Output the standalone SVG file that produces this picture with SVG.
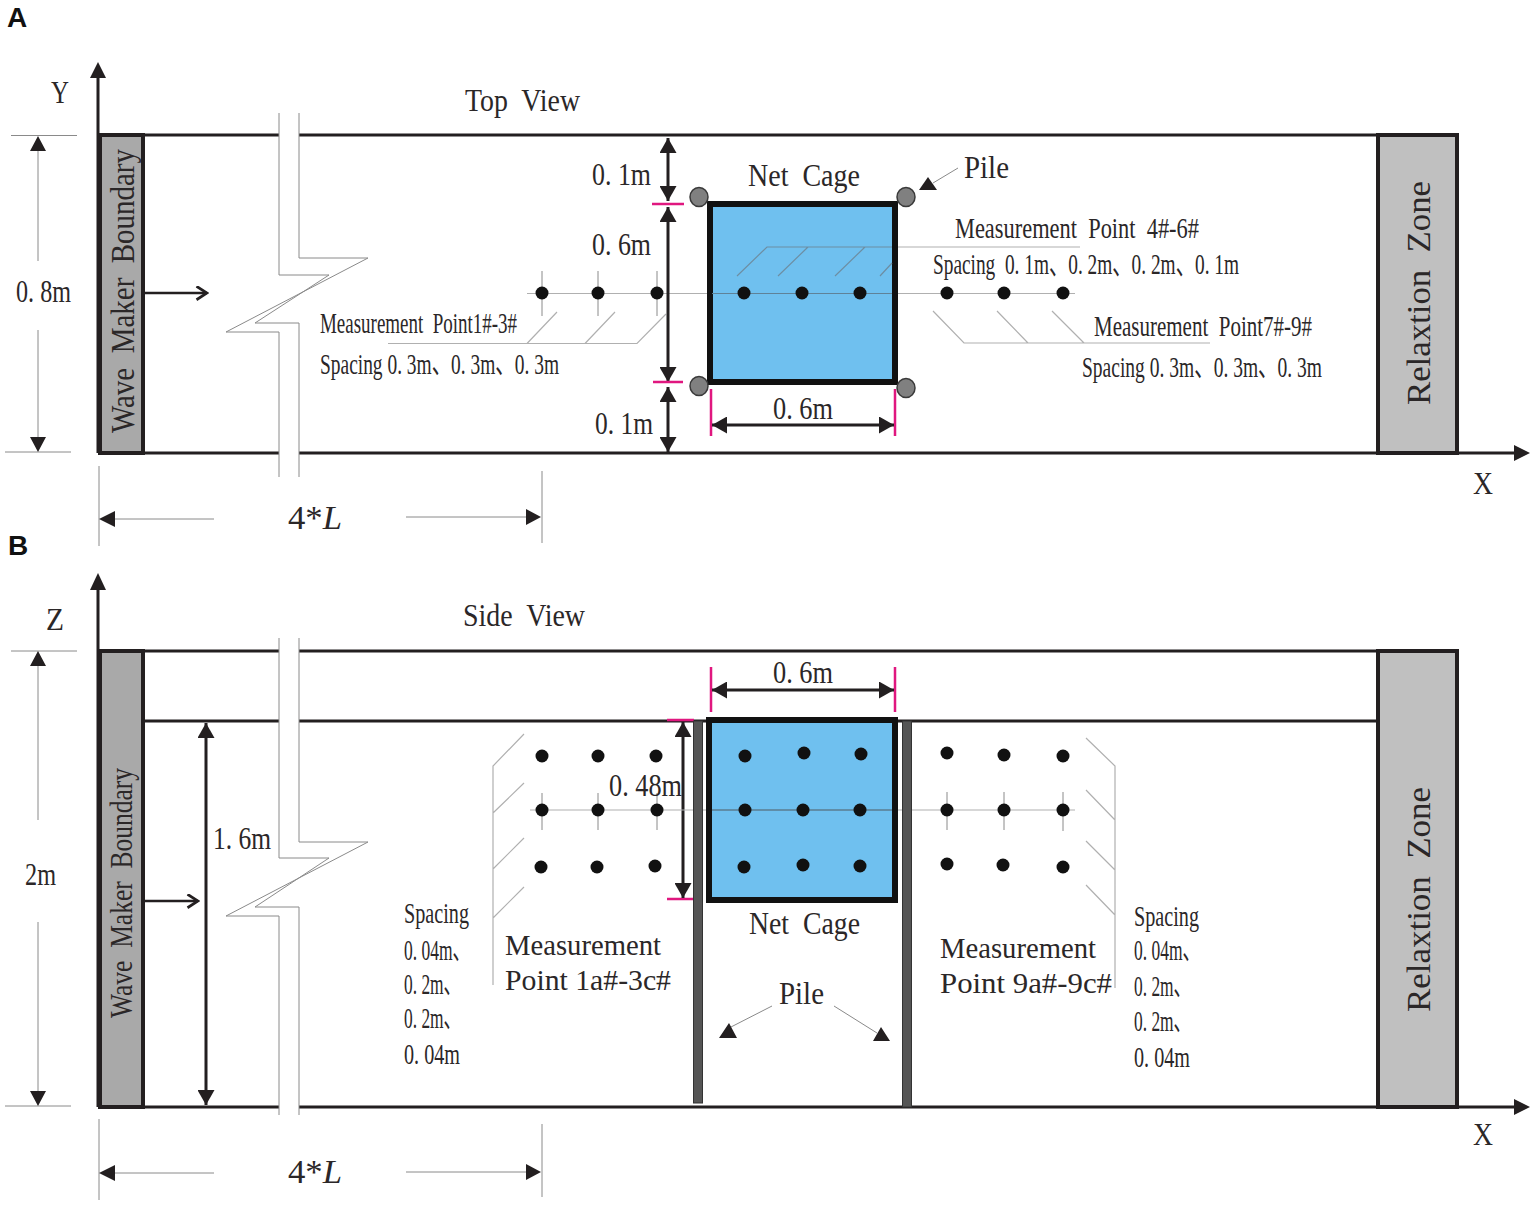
<svg xmlns="http://www.w3.org/2000/svg" width="1535" height="1205" viewBox="0 0 1535 1205">
<defs>
<marker id="ah" viewBox="0 0 15 17" refX="15" refY="8.500" markerWidth="15" markerHeight="17" markerUnits="userSpaceOnUse" orient="auto-start-reverse"><path d="M0 0L15 8.500L0 17Z" fill="#231f20"/></marker>
<marker id="op" viewBox="0 0 10 10" refX="9" refY="5" markerWidth="15" markerHeight="15" markerUnits="userSpaceOnUse" orient="auto"><path d="M2 0.500L9 5L2 9.500" fill="none" stroke="#231f20" stroke-width="1.800"/></marker>
</defs>
<style>
text{font-family:"Liberation Serif","Times New Roman","Noto Sans CJK SC",serif;fill:#2b2728;font-size:31px;white-space:pre}
.p{font-family:"Liberation Sans",Arial,sans-serif;font-weight:bold;font-size:28px;fill:#111}
.s{font-size:29px}
.m{font-size:30px}
.wall{stroke:#231f20;stroke-width:3;fill:none}
.thin{stroke:#8a8a8a;stroke-width:1;fill:none}
.lead{stroke:#b0b0b0;stroke-width:1.200;fill:none}
.blk{stroke:#231f20;stroke-width:2.500;fill:none}
.dim{stroke:#231f20;stroke-width:3;fill:none;marker-start:url(#ah);marker-end:url(#ah)}
.pink{stroke:#e0177f;stroke-width:2.500;fill:none}
.zone{fill:#c0c0c0;stroke:#231f20;stroke-width:4}
.wm{fill:#a9a9a9;stroke:#231f20;stroke-width:4}
.cage{fill:#6fc0ef;stroke:#111;stroke-width:6}
.pile{fill:#808080;stroke:#3a3a3a;stroke-width:1.500}
.sp{fill:#555;stroke:#333;stroke-width:1}
.d{fill:#111}
.brk{fill:#fff;stroke:#8a8a8a;stroke-width:1}
.tri{fill:#231f20}
</style>
<rect width="1535" height="1205" fill="#fff"/>

<g id="connectors">
<!-- top view -->
<path class="wall" d="M98 135H1457M98 453H1516"/>
<path class="wall" d="M98 453V78"/><path class="tri" d="M98 62L106 78H90Z"/>
<path class="tri" d="M1530 453L1514 445V461Z"/>
<path class="thin" d="M11 135.500H77M5 452H71"/>
<path class="thin" d="M38 145V261M38 330V440"/>
<path class="tri" d="M38 136L46 151H30ZM38 452L30 437H46Z"/>
<path class="blk" d="M144 293H207" marker-end="url(#op)"/>
<path class="thin" d="M99 466V546M542 471V543"/>
<path class="thin" d="M114 519H214M406 517H526"/>
<path class="tri" d="M99 519L115 511V527ZM541 517L526 509V525Z"/>
<path class="lead" d="M527 293.500H1075"/>
<path class="thin" d="M542 271V316M598 271V316M657 271V316"/>
<path class="lead" d="M388 343.500H637L666 314M527 343.500L557 312M585 343.500L615 312"/>
<path class="lead" d="M892 247H1080M892 263L880 276"/>
<path class="lead" d="M933 311L964 343H1210M997 311L1028 343M1052 311L1084 343"/>
<path class="dim" d="M668 138V201"/>
<path class="dim" d="M668 207V382"/>
<path class="dim" d="M668 387V452"/>
<path class="pink" d="M652 204H684M653 382H683"/>
<path class="pink" d="M711 389V436M895 389V436"/>
<path class="dim" d="M712 425H894"/>
<path class="thin" d="M958 168L933 183"/>
<path class="tri" d="M928 177L937 190H919Z"/>
<!-- side view -->
<path class="wall" d="M98 651H1457M144 721H1378M98 1107H1516"/>
<path class="wall" d="M98 1107V590"/><path class="tri" d="M98 573L106 590H90Z"/>
<path class="tri" d="M1530 1107L1514 1099V1115Z"/>
<path class="thin" d="M11 651H77M5 1106H71"/>
<path class="thin" d="M38 665V820M38 922V1092"/>
<path class="tri" d="M38 651L46 666H30ZM38 1106L30 1091H46Z"/>
<path class="blk" d="M144 901H198" marker-end="url(#op)"/>
<path class="dim" d="M206 723V1105"/>
<path class="thin" d="M99 1119V1200M542 1124V1197"/>
<path class="thin" d="M114 1173H214M406 1172H526"/>
<path class="tri" d="M99 1173L115 1165V1181ZM541 1172L526 1164V1180Z"/>
<path class="pink" d="M711 667V712M895 667V712"/>
<path class="dim" d="M712 690H894"/>
<path class="pink" d="M667 720H694M667 899H693"/>
<path class="dim" d="M683 722V898"/>
<path class="lead" d="M530 810H1075"/>
<path class="thin" d="M542 793V830M598 793V830M657 793V830M947 792V830M1004 792V830M1063 792V831"/>
<path class="lead" d="M524 734L493 766V985M524 783L493 813M524 838L493 869M524 887L493 918"/>
<path class="lead" d="M1086 738L1115 766V988M1086 790L1115 820M1086 841L1115 870M1086 885L1115 915"/>
<path class="thin" d="M772 1006L729 1028M834 1006L877 1033"/>
<path class="tri" d="M729 1023L737 1038H719ZM881 1027L890 1041H873Z"/>
</g>

<g id="break-a"><path class="brk" style="stroke:none" d="M279 113H299V258H368L255 323H299V477H279V332H226L329 275H279Z"/><path class="brk" style="fill:none" d="M279 113V275H329L255 323H299V477M299 113V258H368L226 332H279V477"/></g>
<g id="break-b"><path class="brk" style="stroke:none" d="M279 638H299V842H368L255 907H299V1115H279V916H226L329 858H279Z"/><path class="brk" style="fill:none" d="M279 638V858H329L255 907H299V1115M299 638V842H368L226 916H279V1115"/></g>

<g id="wave-maker-a"><rect class="wm" x="100" y="135" width="43" height="318"/><text transform="translate(134 433) rotate(-90)" x="0" y="0" textLength="284" lengthAdjust="spacingAndGlyphs" style="font-size:34px">Wave  Maker  Boundary</text></g>
<g id="relax-a"><rect class="zone" x="1378" y="135" width="79" height="318"/><text transform="translate(1430 405) rotate(-90)" x="0" y="0" textLength="224" lengthAdjust="spacingAndGlyphs" style="font-size:34px">Relaxtion  Zone</text></g>
<g id="cage-a"><rect class="cage" x="710" y="204" width="185" height="178"/></g>
<g id="piles-a"><ellipse class="pile" cx="699" cy="197" rx="9" ry="9.500"/><ellipse class="pile" cx="906" cy="197" rx="9" ry="9.500"/><ellipse class="pile" cx="699" cy="386" rx="9" ry="9.500"/><ellipse class="pile" cx="906" cy="388" rx="9" ry="9.500"/></g>
<g id="points-a">
<path class="lead" d="M712 293.500H892" style="stroke:#5f8298"/>
<circle class="d" cx="542" cy="293" r="6.500"/><circle class="d" cx="598" cy="293" r="6.500"/><circle class="d" cx="657" cy="293" r="6.500"/>
<circle class="d" cx="744" cy="293" r="6.500"/><circle class="d" cx="802" cy="293" r="6.500"/><circle class="d" cx="860" cy="293" r="6.500"/>
<circle class="d" cx="947" cy="293" r="6.500"/><circle class="d" cx="1004" cy="293" r="6.500"/><circle class="d" cx="1063" cy="293" r="6.500"/>
<path class="lead" d="M737 276L767 247H892M778 276L808 247M835 276L865 247M880 276L892 263" style="stroke:#6d8ea3"/>
</g>

<g id="wave-maker-b"><rect class="wm" x="100" y="651" width="43" height="456"/><text transform="translate(132 1018) rotate(-90)" x="0" y="0" textLength="250" lengthAdjust="spacingAndGlyphs" style="font-size:31px">Wave  Maker  Boundary</text></g>
<g id="relax-b"><rect class="zone" x="1378" y="651" width="79" height="456"/><text transform="translate(1430 1012) rotate(-90)" x="0" y="0" textLength="225" lengthAdjust="spacingAndGlyphs" style="font-size:34px">Relaxtion  Zone</text></g>
<g id="piles-b"><rect class="sp" x="693.500" y="721" width="9" height="382"/><rect class="sp" x="902.500" y="721" width="9" height="386"/></g>
<g id="cage-b"><rect class="cage" x="709" y="720" width="186" height="180"/><path d="M712 810H892" stroke="#5a7c90" stroke-width="1.300"/></g>
<g id="points-b">
<circle class="d" cx="542" cy="756" r="6.500"/><circle class="d" cx="598" cy="756" r="6.500"/><circle class="d" cx="656" cy="756" r="6.500"/>
<circle class="d" cx="542" cy="810" r="6.500"/><circle class="d" cx="598" cy="810" r="6.500"/><circle class="d" cx="657" cy="810" r="6.500"/>
<circle class="d" cx="541" cy="867" r="6.500"/><circle class="d" cx="597" cy="867" r="6.500"/><circle class="d" cx="655" cy="866" r="6.500"/>
<circle class="d" cx="745" cy="756" r="6.500"/><circle class="d" cx="804" cy="753" r="6.500"/><circle class="d" cx="861" cy="754" r="6.500"/>
<circle class="d" cx="745" cy="810" r="6.500"/><circle class="d" cx="803" cy="810" r="6.500"/><circle class="d" cx="860" cy="810" r="6.500"/>
<circle class="d" cx="744" cy="867" r="6.500"/><circle class="d" cx="803" cy="865" r="6.500"/><circle class="d" cx="860" cy="866" r="6.500"/>
<circle class="d" cx="947" cy="753" r="6.500"/><circle class="d" cx="1004" cy="755" r="6.500"/><circle class="d" cx="1063" cy="756" r="6.500"/>
<circle class="d" cx="947" cy="810" r="6.500"/><circle class="d" cx="1004" cy="810" r="6.500"/><circle class="d" cx="1063" cy="810" r="6.500"/>
<circle class="d" cx="947" cy="864" r="6.500"/><circle class="d" cx="1003" cy="865" r="6.500"/><circle class="d" cx="1063" cy="867" r="6.500"/>
</g>

<g id="labels">
<text class="p" x="7" y="27">A</text>
<text class="p" x="8" y="555">B</text>
<text x="51" y="103" textLength="18" lengthAdjust="spacingAndGlyphs">Y</text>
<text x="465" y="111" textLength="115" lengthAdjust="spacingAndGlyphs">Top  View</text>
<text x="16" y="302" textLength="55" lengthAdjust="spacingAndGlyphs">0. 8m</text>
<text x="288" y="529" textLength="54" lengthAdjust="spacingAndGlyphs" style="font-size:33px">4*<tspan font-style="italic">L</tspan></text>
<text class="s" x="320" y="333" textLength="197" lengthAdjust="spacingAndGlyphs">Measurement  Point1#-3#</text>
<text class="s" x="320" y="374" textLength="239" lengthAdjust="spacingAndGlyphs">Spacing 0. 3m、0. 3m、0. 3m</text>
<text x="592" y="185" textLength="59" lengthAdjust="spacingAndGlyphs">0. 1m</text>
<text x="592" y="255" textLength="59" lengthAdjust="spacingAndGlyphs">0. 6m</text>
<text x="595" y="434" textLength="58" lengthAdjust="spacingAndGlyphs">0. 1m</text>
<text x="748" y="186" textLength="112" lengthAdjust="spacingAndGlyphs">Net  Cage</text>
<text x="964" y="178" textLength="45" lengthAdjust="spacingAndGlyphs">Pile</text>
<text x="773" y="419" textLength="60" lengthAdjust="spacingAndGlyphs">0. 6m</text>
<text class="m" x="955" y="238" textLength="244" lengthAdjust="spacingAndGlyphs">Measurement  Point  4#-6#</text>
<text class="m" x="933" y="274" textLength="306" lengthAdjust="spacingAndGlyphs">Spacing  0. 1m、0. 2m、0. 2m、0. 1m</text>
<text class="s" x="1094" y="336" textLength="218" lengthAdjust="spacingAndGlyphs">Measurement  Point7#-9#</text>
<text class="s" x="1082" y="377" textLength="240" lengthAdjust="spacingAndGlyphs">Spacing 0. 3m、0. 3m、0. 3m</text>
<text x="1473" y="494" textLength="20" lengthAdjust="spacingAndGlyphs">X</text>
<text x="46" y="630" textLength="18" lengthAdjust="spacingAndGlyphs">Z</text>
<text x="463" y="626" textLength="122" lengthAdjust="spacingAndGlyphs">Side  View</text>
<text x="25" y="885" textLength="31" lengthAdjust="spacingAndGlyphs">2m</text>
<text x="213" y="849" textLength="58" lengthAdjust="spacingAndGlyphs">1. 6m</text>
<text x="288" y="1183" textLength="54" lengthAdjust="spacingAndGlyphs" style="font-size:33px">4*<tspan font-style="italic">L</tspan></text>
<text x="773" y="683" textLength="60" lengthAdjust="spacingAndGlyphs">0. 6m</text>
<text x="609" y="796" textLength="73" lengthAdjust="spacingAndGlyphs">0. 48m</text>
<text x="749" y="934" textLength="111" lengthAdjust="spacingAndGlyphs">Net  Cage</text>
<text x="779" y="1004" textLength="45" lengthAdjust="spacingAndGlyphs">Pile</text>
<text class="m" x="505" y="955" textLength="156" lengthAdjust="spacingAndGlyphs">Measurement</text>
<text class="m" x="505" y="990" textLength="166" lengthAdjust="spacingAndGlyphs">Point 1a#-3c#</text>
<text class="m" x="940" y="958" textLength="156" lengthAdjust="spacingAndGlyphs">Measurement</text>
<text class="m" x="940" y="993" textLength="172" lengthAdjust="spacingAndGlyphs">Point 9a#-9c#</text>
<text class="s" x="404" y="923" textLength="65" lengthAdjust="spacingAndGlyphs">Spacing</text>
<text class="s" x="404" y="960" textLength="66" lengthAdjust="spacingAndGlyphs">0. 04m、</text>
<text class="s" x="404" y="994" textLength="57" lengthAdjust="spacingAndGlyphs">0. 2m、</text>
<text class="s" x="404" y="1028" textLength="57" lengthAdjust="spacingAndGlyphs">0. 2m、</text>
<text class="s" x="404" y="1064" textLength="56" lengthAdjust="spacingAndGlyphs">0. 04m</text>
<text class="s" x="1134" y="926" textLength="65" lengthAdjust="spacingAndGlyphs">Spacing</text>
<text class="s" x="1134" y="960" textLength="66" lengthAdjust="spacingAndGlyphs">0. 04m、</text>
<text class="s" x="1134" y="996" textLength="57" lengthAdjust="spacingAndGlyphs">0. 2m、</text>
<text class="s" x="1134" y="1031" textLength="57" lengthAdjust="spacingAndGlyphs">0. 2m、</text>
<text class="s" x="1134" y="1067" textLength="56" lengthAdjust="spacingAndGlyphs">0. 04m</text>
<text x="1473" y="1145" textLength="20" lengthAdjust="spacingAndGlyphs">X</text>
</g>
</svg>
